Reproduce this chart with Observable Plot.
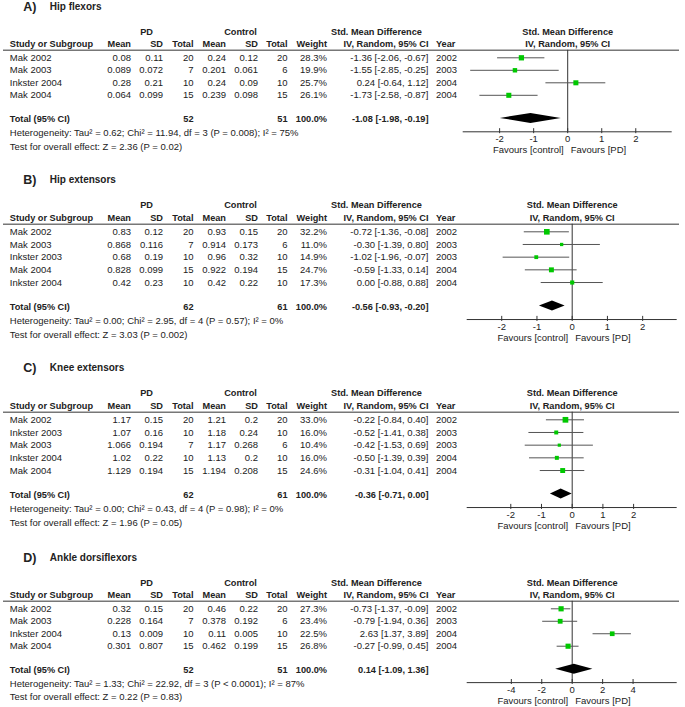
<!DOCTYPE html>
<html><head><meta charset="utf-8">
<script src="https://cdn.jsdelivr.net/npm/d3@7"></script>
<script src="https://cdn.jsdelivr.net/npm/@observablehq/plot@0.6"></script>
<style>body{margin:0;background:#fff} svg{display:block}</style>
</head><body><div id="chart"></div>
<script>
// ---------- A) Hip flexors ----------
const hfStudy  = ["Mak 2002", "Mak 2003", "Inkster 2004", "Mak 2004"];
const hfPdMean = [0.08, 0.089, 0.28, 0.064];
const hfPdSD   = [0.11, 0.072, 0.21, 0.099];
const hfPdN    = [20, 7, 10, 15];
const hfCtMean = [0.24, 0.201, 0.24, 0.239];
const hfCtSD   = [0.12, 0.061, 0.09, 0.098];
const hfCtN    = [20, 6, 10, 15];
const hfWeight = [28.3, 19.9, 25.7, 26.1];
const hfSMD    = [-1.36, -1.55, 0.24, -1.73];
const hfLower  = [-2.06, -2.85, -0.64, -2.58];
const hfUpper  = [-0.67, -0.25, 1.12, -0.87];
const hfYear   = [2002, 2003, 2004, 2004];
const hfTotalN = [52, 51];
const hfPooled = [-1.08, -1.98, -0.19];
const hfHet    = "Heterogeneity: Tau² = 0.62; Chi² = 11.94, df = 3 (P = 0.008); I² = 75%";
const hfTest   = "Test for overall effect: Z = 2.36 (P = 0.02)";
const hfTicks  = [-2, -1, 0, 1, 2];

// ---------- B) Hip extensors ----------
const heStudy  = ["Mak 2002", "Mak 2003", "Inkster 2003", "Mak 2004", "Inkster 2004"];
const hePdMean = [0.83, 0.868, 0.68, 0.828, 0.42];
const hePdSD   = [0.12, 0.116, 0.19, 0.099, 0.23];
const hePdN    = [20, 7, 10, 15, 10];
const heCtMean = [0.93, 0.914, 0.96, 0.922, 0.42];
const heCtSD   = [0.15, 0.173, 0.32, 0.194, 0.22];
const heCtN    = [20, 6, 10, 15, 10];
const heWeight = [32.2, 11.0, 14.9, 24.7, 17.3];
const heSMD    = [-0.72, -0.30, -1.02, -0.59, 0.00];
const heLower  = [-1.36, -1.39, -1.96, -1.33, -0.88];
const heUpper  = [-0.08, 0.80, -0.07, 0.14, 0.88];
const heYear   = [2002, 2003, 2003, 2004, 2004];
const heTotalN = [62, 61];
const hePooled = [-0.56, -0.93, -0.20];
const heHet    = "Heterogeneity: Tau² = 0.00; Chi² = 2.95, df = 4 (P = 0.57); I² = 0%";
const heTest   = "Test for overall effect: Z = 3.03 (P = 0.002)";
const heTicks  = [-2, -1, 0, 1, 2];

// ---------- C) Knee extensors ----------
const keStudy  = ["Mak 2002", "Inkster 2003", "Mak 2003", "Inkster 2004", "Mak 2004"];
const kePdMean = [1.17, 1.07, 1.066, 1.02, 1.129];
const kePdSD   = [0.15, 0.16, 0.194, 0.22, 0.194];
const kePdN    = [20, 10, 7, 10, 15];
const keCtMean = [1.21, 1.18, 1.17, 1.13, 1.194];
const keCtSD   = [0.2, 0.24, 0.268, 0.2, 0.208];
const keCtN    = [20, 10, 6, 10, 15];
const keWeight = [33.0, 16.0, 10.4, 16.0, 24.6];
const keSMD    = [-0.22, -0.52, -0.42, -0.50, -0.31];
const keLower  = [-0.84, -1.41, -1.53, -1.39, -1.04];
const keUpper  = [0.40, 0.38, 0.69, 0.39, 0.41];
const keYear   = [2002, 2003, 2003, 2004, 2004];
const keTotalN = [62, 61];
const kePooled = [-0.36, -0.71, 0.00];
const keHet    = "Heterogeneity: Tau² = 0.00; Chi² = 0.43, df = 4 (P = 0.98); I² = 0%";
const keTest   = "Test for overall effect: Z = 1.96 (P = 0.05)";
const keTicks  = [-2, -1, 0, 1, 2];

// ---------- D) Ankle dorsiflexors ----------
const adStudy  = ["Mak 2002", "Mak 2003", "Inkster 2004", "Mak 2004"];
const adPdMean = [0.32, 0.228, 0.13, 0.301];
const adPdSD   = [0.15, 0.164, 0.009, 0.807];
const adPdN    = [20, 7, 10, 15];
const adCtMean = [0.46, 0.378, 0.11, 0.462];
const adCtSD   = [0.22, 0.192, 0.005, 0.199];
const adCtN    = [20, 6, 10, 15];
const adWeight = [27.3, 23.4, 22.5, 26.8];
const adSMD    = [-0.73, -0.79, 2.63, -0.27];
const adLower  = [-1.37, -1.94, 1.37, -0.99];
const adUpper  = [-0.09, 0.36, 3.89, 0.45];
const adYear   = [2002, 2003, 2004, 2004];
const adTotalN = [52, 51];
const adPooled = [0.14, -1.09, 1.36];
const adHet    = "Heterogeneity: Tau² = 1.33; Chi² = 22.92, df = 3 (P < 0.0001); I² = 87%";
const adTest   = "Test for overall effect: Z = 0.22 (P = 0.83)";
const adTicks  = [-4, -2, 0, 2, 4];

const favLeft = "Favours [control]";
const favRight = "Favours [PD]";

// ---------- assemble panels (data + layout) ----------
const panels = [
  {label: "A)", name: "Hip flexors", study: hfStudy, pdMean: hfPdMean, pdSD: hfPdSD, pdN: hfPdN, ctMean: hfCtMean, ctSD: hfCtSD, ctN: hfCtN,
   weight: hfWeight, smd: hfSMD, lo: hfLower, hi: hfUpper, year: hfYear, totalN: hfTotalN, pooled: hfPooled, het: hfHet, test: hfTest, ticks: hfTicks,
   H: 160, row0: 57.3, step: 12.5, mL: 462.7, mR: 13.3, dom: 3.07},
  {label: "B)", name: "Hip extensors", study: heStudy, pdMean: hePdMean, pdSD: hePdSD, pdN: hePdN, ctMean: heCtMean, ctSD: heCtSD, ctN: heCtN,
   weight: heWeight, smd: heSMD, lo: heLower, hi: heUpper, year: heYear, totalN: heTotalN, pooled: hePooled, het: heHet, test: heTest, ticks: heTicks,
   H: 185, row0: 71.3, step: 12.68, mL: 466.7, mR: 8.3, dom: 2.98},
  {label: "C)", name: "Knee extensors", study: keStudy, pdMean: kePdMean, pdSD: kePdSD, pdN: kePdN, ctMean: keCtMean, ctSD: keCtSD, ctN: keCtN,
   weight: keWeight, smd: keSMD, lo: keLower, hi: keUpper, year: keYear, totalN: keTotalN, pooled: kePooled, het: keHet, test: keTest, ticks: keTicks,
   H: 185, row0: 74.3, step: 12.68, mL: 466.7, mR: 8.3, dom: 3.42},
  {label: "D)", name: "Ankle dorsiflexors", study: adStudy, pdMean: adPdMean, pdSD: adPdSD, pdN: adPdN, ctMean: adCtMean, ctSD: adCtSD, ctN: adCtN,
   weight: adWeight, smd: adSMD, lo: adLower, hi: adUpper, year: adYear, totalN: adTotalN, pooled: adPooled, het: adHet, test: adTest, ticks: adTicks,
   H: 177, row0: 78.3, step: 12.47, mL: 466.7, mR: 8.3, dom: 6.9}
];

// column positions (px from left edge of the page)
const col = {study: 9.3, pdMean: 130.5, pdSD: 162.5, pdN: 193, ctMean: 225.5, ctSD: 257.5, ctN: 287,
             weight: 326.5, ci: 428, year: 435.5, pdHead: 146, ctHead: 240, smdHead: 376, title: 22.7, name: 49.3};

const ciText = (e, l, h) => `${e.toFixed(2)} [${l.toFixed(2)}, ${h.toFixed(2)}]`;
const INK = "#222";

function panelPlot(p) {
  const n = p.study.length;
  const rows = p.study.map((s, i) => ({
    row: i, study: s, pdMean: p.pdMean[i], pdSD: p.pdSD[i], pdN: p.pdN[i],
    ctMean: p.ctMean[i], ctSD: p.ctSD[i], ctN: p.ctN[i], weight: p.weight[i],
    smd: p.smd[i], lo: p.lo[i], hi: p.hi[i], year: p.year[i]
  }));
  const Y = {title: -4.1, group: -2.1, head: -1.1, rule: -0.6,
             total: n + 0.92, diamond: n + 0.85, het: n + 2.03, test: n + 3.1,
             axis: n + 1.92, tick: n + 2.47, fav: n + 3.4};
  const tx = (data, x, o) => Plot.text(data, {frameAnchor: "left", dx: x - p.mL, fill: INK, ...o});
  const R = (x, key, fmt, o = {}) => tx(rows, x, {y: "row", text: d => fmt(d[key]), textAnchor: "end", ...o});
  const B = {fontWeight: "bold", fontSize: 9.2};
  const [est, lo, hi] = p.pooled;
  const diamond = [
    {x: lo, y1: Y.diamond, y2: Y.diamond},
    {x: est, y1: Y.diamond - 0.4, y2: Y.diamond + 0.4},
    {x: hi, y1: Y.diamond, y2: Y.diamond}
  ];
  const S = v => String(v);

  return Plot.plot({
    width: 685, height: p.H,
    marginLeft: p.mL, marginRight: p.mR, marginTop: 0, marginBottom: 0,
    x: {domain: [-p.dom, p.dom], axis: null},
    y: {domain: [-p.row0 / p.step, (p.H - p.row0) / p.step], range: [0, p.H], axis: null},
    r: {type: "sqrt", domain: [0, 100], range: [0, 5.6]},
    style: {fontFamily: "'Liberation Sans', Arial, sans-serif", fontSize: "9.5px", color: INK, background: "#fff", overflow: "visible"},
    marks: [
      // title
      tx([p.label], col.title, {y: Y.title, textAnchor: "start", fontWeight: "bold", fontSize: 12.5}),
      tx([p.name], col.name, {y: Y.title, textAnchor: "start", fontWeight: "bold", fontSize: 10}),
      // group headers
      tx(["PD"], col.pdHead, {y: Y.group, textAnchor: "middle", ...B}),
      tx(["Control"], col.ctHead, {y: Y.group, textAnchor: "middle", ...B}),
      tx(["Std. Mean Difference"], col.smdHead, {y: Y.group, textAnchor: "middle", ...B}),
      Plot.text(["Std. Mean Difference"], {x: 0, y: Y.group, fill: INK, ...B}),
      // column headers
      tx(["Study or Subgroup"], col.study, {y: Y.head, textAnchor: "start", ...B}),
      tx(["Mean"], col.pdMean, {y: Y.head, textAnchor: "end", ...B}),
      tx(["SD"], col.pdSD, {y: Y.head, textAnchor: "end", ...B}),
      tx(["Total"], col.pdN, {y: Y.head, textAnchor: "end", ...B}),
      tx(["Mean"], col.ctMean, {y: Y.head, textAnchor: "end", ...B}),
      tx(["SD"], col.ctSD, {y: Y.head, textAnchor: "end", ...B}),
      tx(["Total"], col.ctN, {y: Y.head, textAnchor: "end", ...B}),
      tx(["Weight"], col.weight, {y: Y.head, textAnchor: "end", ...B}),
      tx(["IV, Random, 95% CI"], col.ci, {y: Y.head, textAnchor: "end", ...B}),
      tx(["Year"], col.year, {y: Y.head, textAnchor: "start", ...B}),
      Plot.text(["IV, Random, 95% CI"], {x: 0, y: Y.head, fill: INK, ...B}),
      // header rule
      Plot.ruleY([Y.rule], {stroke: "#777", strokeWidth: 1.4, insetLeft: 3 - p.mL, insetRight: (685 - p.mR) - 679}),
      // study rows
      tx(rows, col.study, {y: "row", text: "study", textAnchor: "start"}),
      R(col.pdMean, "pdMean", S),
      R(col.pdSD, "pdSD", S),
      R(col.pdN, "pdN", S),
      R(col.ctMean, "ctMean", S),
      R(col.ctSD, "ctSD", S),
      R(col.ctN, "ctN", S),
      R(col.weight, "weight", v => v.toFixed(1) + "%"),
      tx(rows, col.ci, {y: "row", text: d => ciText(d.smd, d.lo, d.hi), textAnchor: "end"}),
      tx(rows, col.year, {y: "row", text: d => String(d.year), textAnchor: "start"}),
      // total row
      tx(["Total (95% CI)"], col.study, {y: Y.total, textAnchor: "start", ...B}),
      tx([String(p.totalN[0])], col.pdN, {y: Y.total, textAnchor: "end", ...B}),
      tx([String(p.totalN[1])], col.ctN, {y: Y.total, textAnchor: "end", ...B}),
      tx(["100.0%"], col.weight, {y: Y.total, textAnchor: "end", ...B}),
      tx([ciText(est, lo, hi)], col.ci, {y: Y.total, textAnchor: "end", ...B}),
      // footnotes
      tx([p.het], col.study, {y: Y.het, textAnchor: "start"}),
      tx([p.test], col.study, {y: Y.test, textAnchor: "start"}),
      // forest plot
      Plot.ruleX([0], {y1: Y.rule, y2: Y.axis, stroke: "#333"}),
      Plot.ruleY([Y.axis], {stroke: "#333"}),
      Plot.ruleX(p.ticks, {x: d => d, y1: Y.axis - 0.25, y2: Y.axis + 0.15, stroke: "#333"}),
      Plot.text(p.ticks, {x: d => d, y: Y.tick, text: d => String(d), fill: INK}),
      Plot.text([favLeft], {x: 0, y: Y.fav, textAnchor: "end", dx: -4, fill: INK}),
      Plot.text([favRight], {x: 0, y: Y.fav, textAnchor: "start", dx: 3, fill: INK}),
      Plot.ruleY(rows, {y: "row", x1: "lo", x2: "hi", stroke: "#555"}),
      Plot.dot(rows, {x: "smd", y: "row", r: "weight", symbol: "square", fill: "#00c800", stroke: null}),
      Plot.area(diamond, {x1: "x", y1: "y1", y2: "y2", fill: "#000"})
    ]
  });
}

const root = document.getElementById("chart");
for (const p of panels) root.appendChild(panelPlot(p));
</script>
</body></html>
